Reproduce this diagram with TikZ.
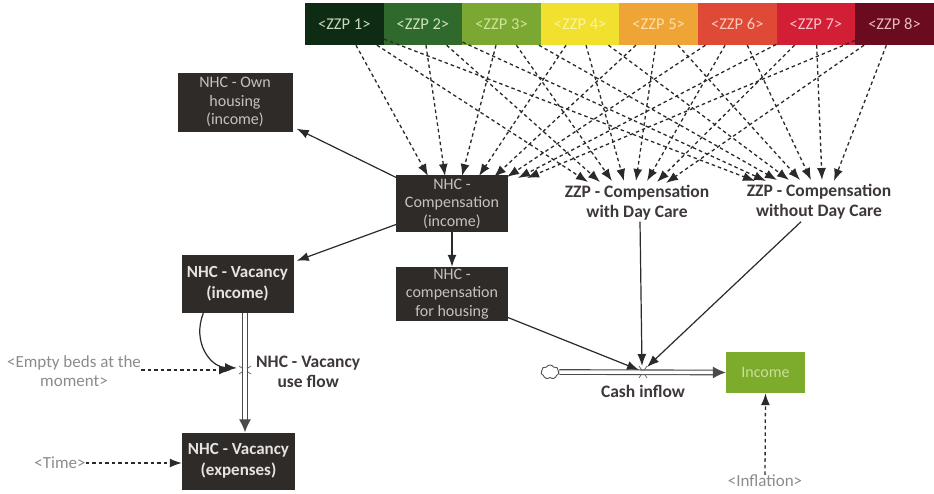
\documentclass[tikz,border=0pt]{standalone}
\usepackage{fontspec}
\setmainfont{Carlito}
\usetikzlibrary{arrows.meta,calc,shapes.symbols}

\definecolor{boxfill}{HTML}{2E2B29}
\definecolor{boxtext}{HTML}{C4C2C0}
\definecolor{boldtext}{HTML}{E6E4E2}
\definecolor{ink}{HTML}{2A2A2A}
\definecolor{label}{HTML}{3E3838}
\definecolor{shadow}{HTML}{8C8C8C}
\definecolor{incfill}{HTML}{7DAB2C}
\definecolor{inctext}{HTML}{C8E09A}
% level colours of the care-intensity packages
\definecolor{zA}{HTML}{0E2C13}\definecolor{zAt}{HTML}{C8D8C0}
\definecolor{zB}{HTML}{2F6A2C}\definecolor{zBt}{HTML}{CDE3B6}
\definecolor{zC}{HTML}{7BA833}\definecolor{zCt}{HTML}{CFE59A}
\definecolor{zD}{HTML}{F1E02E}\definecolor{zDt}{HTML}{FAF3A8}
\definecolor{zE}{HTML}{EFA436}\definecolor{zEt}{HTML}{FBE0AC}
\definecolor{zF}{HTML}{DF4A36}\definecolor{zFt}{HTML}{F8CABB}
\definecolor{zG}{HTML}{D21F36}\definecolor{zGt}{HTML}{F8C2CA}
\definecolor{zH}{HTML}{6A0B1F}\definecolor{zHt}{HTML}{E8B9C2}

\begin{document}
\begin{tikzpicture}[x=1pt,y=-1pt,
  every node/.style={inner sep=0pt},
  zzpcell/.style={rectangle, minimum width=78.8, minimum height=42,
    font=\fontsize{16.5}{19}\selectfont},
  box/.style={rectangle, fill=boxfill, text=boxtext, align=center,
    font=\fontsize{16}{18.5}\selectfont},
  boldbox/.style={box, text=boldtext, font=\fontsize{17}{21}\selectfont\bfseries},
  varlabel/.style={align=center, text=label, font=\fontsize{17.5}{20}\selectfont\bfseries},
  shadowvar/.style={align=center, text=shadow, font=\fontsize{17}{19}\selectfont},
  dep/.style={draw=ink, line width=1.3pt, dash pattern=on 3.5pt off 3pt,
    -{Latex[length=12pt,width=9pt]}},
  link/.style={draw=ink, line width=1.2pt, -{Latex[length=12pt,width=9pt]}},
  pipe/.style={draw=ink!85, line width=1.1pt, double=white, double distance=3.5pt,
    -{Latex[length=13pt,width=12pt]}},
  valve/.style={draw=ink!70, line width=0.8pt}
]
\useasboundingbox (0,0) rectangle (934,493);
\fill[white] (0,0) rectangle (934,493);

% care-intensity packages along the top
\foreach \i/\fc/\tc in {1/zA/zAt,2/zB/zBt,3/zC/zCt,4/zD/zDt,5/zE/zEt,6/zF/zFt,7/zG/zGt,8/zH/zHt}
  \node[zzpcell, fill=\fc, text=\tc] (z\i) at ({305+78.6*(\i-0.5)},24) {<ZZP \i>};

% stocks and auxiliaries
\node[box, minimum width=115, minimum height=59] (own) at (235,102) {NHC - Own\\housing\\(income)};
\node[box, minimum width=112, minimum height=57] (comp) at (452,203.5) {NHC -\\Compensation\\(income)};
\node[box, minimum width=112, minimum height=54] (chous) at (452,294) {NHC -\\compensation\\for housing};
\node[boldbox, minimum width=112, minimum height=58] (vinc) at (237.5,284) {NHC - Vacancy\\(income)};
\node[boldbox, minimum width=113, minimum height=57] (vexp) at (238.5,461) {NHC - Vacancy\\(expenses)};
\node[rectangle, fill=incfill, text=inctext, minimum width=79, minimum height=41,
  font=\fontsize{16}{18}\selectfont] (inc) at (765.5,372.5) {Income};

\node[varlabel] (dc) at (637,203) {ZZP - Compensation\\with Day Care};
\node[varlabel] (ndc) at (819,202) {ZZP - Compensation\\without Day Care};

% shadow variables
\node[shadowvar] (beds) at (74,371) {<Empty beds at the\\moment>};
\node[shadowvar] (time) at (60,463) {<Time>};
\node[shadowvar] (infl) at (765,481) {<Inflation>};

% arrow ends of the package links
\foreach \i/\x/\y in {1/428/176,2/445/176,3/462/176,4/479/176,5/494/177,6/507/177,7/518/178,8/527/178}
  \coordinate (tc\i) at (\x,\y);
\foreach \i/\x/\y in {1/588/182,2/600/182,3/612/181,4/624/181,5/636/181,6/647/181,7/657/182,8/666/183}
  \coordinate (td\i) at (\x,\y);
\foreach \i/\x/\y in {1/755/181,2/766/181,3/777/180,4/789/180,5/800/180,6/811/180,7/822/180,8/834/181}
  \coordinate (tn\i) at (\x,\y);

\foreach \i in {1,...,8} {
  \draw[dep] (z\i) -- (tc\i);
  \draw[dep] (z\i) -- (td\i);
  \draw[dep] (z\i) -- (tn\i);
}

% valves
\coordinate (cv) at (643,372);
\coordinate (vv) at (245,370);
\draw[valve] ($(cv)+(-4,-6)$) -- ($(cv)+(4,6)$) ($(cv)+(4,-6)$) -- ($(cv)+(-4,6)$);
\draw[valve] ($(vv)+(-6,-4)$) -- ($(vv)+(6,4)$) ($(vv)+(6,-4)$) -- ($(vv)+(-6,4)$);

% flows
\node[cloud, draw=ink!80, line width=0.9pt, cloud puffs=7, cloud puff arc=120,
  aspect=1.4, minimum width=18, minimum height=14] (src) at (550,372) {};
\draw[pipe] (src.east) -- (inc.west);
\draw[pipe] (vinc.south -| vv) -- (vexp.north -| vv);
\node[varlabel, anchor=west] (vlab) at (256,372) {NHC - Vacancy\\use flow};
\node[varlabel] (clab) at (643,391) {Cash inflow};

% causal links
\draw[link] ($(comp.north west)+(1,3)$) -- ($(own.south east)+(4,-3)$);
\draw[link] ($(comp.south west)+(1,-8)$) -- ($(vinc.north east)+(3,6)$);
\draw[link] (comp.south) -- (chous.north);
\draw[link] ($(chous.south east)+(-1,-4)$) -- ($(cv)+(-4,-2)$);
\draw[link] ($(dc.south)+(3,1)$) -- ($(cv)+(-1,-6)$);
\draw[link] ($(ndc.south)+(-18,2)$) -- ($(cv)+(4,-5)$);
\draw[link] ($(vinc.south west)+(22,0)$) .. controls (192,342) and (210,367) .. ($(vv)+(-8,-2)$);

% links from the shadow variables
\draw[dep] (beds.east |- vv) -- ($(vv)+(-14,0)$);
\draw[dep] (time.east) -- (vexp.west |- time.east);
\draw[dep] (infl.north) -- (inc.south);
\end{tikzpicture}
\end{document}
